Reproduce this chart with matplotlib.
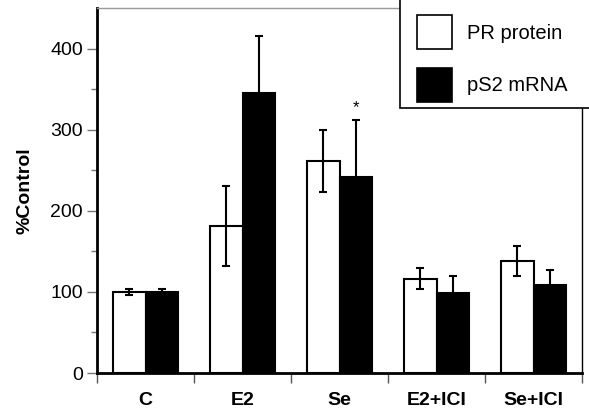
import matplotlib
matplotlib.use("Agg")
import matplotlib.pyplot as plt
from matplotlib.patches import Rectangle
import numpy as np

plt.rcParams['font.family'] = ['Liberation Sans', 'DejaVu Sans']

categories = ["C", "E2", "Se", "E2+ICI", "Se+ICI"]
pr_protein = [100, 181, 261, 116, 138]
pr_err = [4, 49, 38, 13, 19]
ps2_mrna = [100, 345, 242, 99, 109]
ps2_err = [4, 70, 70, 20, 18]
series_labels = ["PR protein", "pS2 mRNA"]
yticks = [0, 100, 200, 300, 400]

W, H = 589, 412
fig = plt.figure(figsize=(W/100, H/100), dpi=100)
ax = fig.add_axes([97/W, 1 - 373/H, (582-97)/W, (373-8)/H])

x = np.arange(len(categories))
w = 0.34
ekw = dict(elinewidth=1.5, capthick=1.5, ecolor='black')
ax.bar(x - w/2, pr_protein, w, color='white', edgecolor='black', linewidth=1.5,
       yerr=pr_err, capsize=3.2, error_kw=ekw, label=series_labels[0], zorder=2)
ax.bar(x + w/2, ps2_mrna, w, color='black', edgecolor='black', linewidth=1.5,
       yerr=ps2_err, capsize=3.2, error_kw=ekw, label=series_labels[1], zorder=2)

# asterisk over Se pS2
ax.text(x[2] + w/2, ps2_mrna[2] + ps2_err[2] + 6, "*", ha='center', va='bottom', fontsize=12)

ax.set_xlim(-0.5, len(categories) - 0.5)
ax.set_ylim(0, 450)
ax.set_yticks(yticks)
ax.set_yticks([50, 150, 250, 350], minor=True)
ax.set_xticks(np.arange(len(categories) + 1) - 0.5)
ax.set_xticklabels([])
for i, c in enumerate(categories):
    ax.text(i, -0.074, c, transform=ax.get_xaxis_transform(), ha='center', va='center',
            fontsize=14, fontweight='bold')
ax.tick_params(axis='y', labelsize=14, length=7, width=1, color='#777777', direction='out', pad=3)
ax.tick_params(axis='y', which='minor', length=4, width=1, color='#777777')
ax.tick_params(axis='x', length=7, width=1, color='#555555', direction='out')
ax.set_ylabel("%Control", fontsize=14, fontweight='bold')
ax.yaxis.set_label_coords((34-97)/485, 0.5)

ax.spines['left'].set_linewidth(2)
ax.spines['bottom'].set_linewidth(2)
ax.spines['top'].set_color('#999999')
ax.spines['top'].set_linewidth(1)
ax.spines['right'].set_linewidth(1)

# legend frame extending beyond the figure's top and right edges
frame = Rectangle((400/W, 1 - 108/H), 1.0, 1.0, transform=fig.transFigure,
                  facecolor='white', edgecolor='black', linewidth=1.2, zorder=10,
                  clip_on=False)
fig.add_artist(frame)
leg = fig.legend(loc='lower left', bbox_to_anchor=(411/W, 1 - 108/H),
                 bbox_transform=fig.transFigure,
                 fontsize=14.5, frameon=False,
                 handlelength=1.74, handleheight=2.23, handletextpad=0.75,
                 labelspacing=0.92, borderpad=0.3, borderaxespad=0)
leg.set_zorder(11)
for p in leg.legend_handles:
    p.set_linewidth(1.2)

fig.savefig("out.png", dpi=100)
